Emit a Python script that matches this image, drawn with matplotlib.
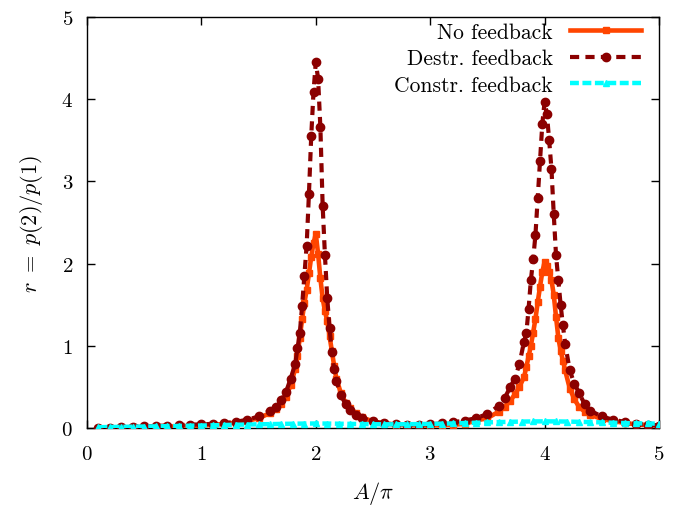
import matplotlib
matplotlib.use("Agg")
import matplotlib.pyplot as plt

plt.rcParams['font.family'] = 'serif'
plt.rcParams['font.serif'] = ['cmr10']
plt.rcParams['mathtext.fontset'] = 'cm'
plt.rcParams['axes.formatter.use_mathtext'] = True

# x values (A/pi) for the no-feedback and destructive-feedback series
x_main = [0.1, 0.2, 0.3, 0.4, 0.5, 0.6, 0.7, 0.8, 0.9, 1.0, 1.1, 1.2, 1.3, 1.4, 1.5, 1.6,
          1.65, 1.7, 1.74, 1.78,
          1.82, 1.84, 1.86, 1.88, 1.90, 1.92, 1.94, 1.96, 1.98, 2.0, 2.02, 2.04, 2.06, 2.08,
          2.10, 2.12, 2.14, 2.16, 2.18,
          2.22, 2.26, 2.3, 2.35, 2.4,
          2.5, 2.6, 2.7, 2.8, 2.9, 3.0, 3.1, 3.2, 3.3, 3.4, 3.5, 3.6,
          3.65, 3.7, 3.74, 3.78,
          3.82, 3.84, 3.86, 3.88, 3.90, 3.92, 3.94, 3.96, 3.98, 4.0, 4.02, 4.04, 4.06, 4.08,
          4.10, 4.12, 4.14, 4.16, 4.18,
          4.22, 4.26, 4.3, 4.35, 4.4,
          4.5, 4.6, 4.7, 4.8, 4.9, 5.0]

no_feedback = [0.0, 0.005, 0.008, 0.01, 0.012, 0.015, 0.018, 0.02, 0.025, 0.03, 0.04, 0.05, 0.065, 0.085, 0.12, 0.18,
               0.23, 0.29, 0.38, 0.52,
               0.72, 0.88, 1.10, 1.32, 1.52, 1.68, 1.88, 2.08, 2.25, 2.36, 2.12, 1.82, 1.58, 1.42,
               1.30, 1.12, 0.94, 0.76, 0.60,
               0.42, 0.31, 0.24, 0.18, 0.13,
               0.08, 0.055, 0.04, 0.035, 0.03, 0.03, 0.035, 0.04, 0.05, 0.09, 0.12, 0.20,
               0.26, 0.33, 0.41, 0.50,
               0.62, 0.74, 0.87, 1.00, 1.16, 1.33, 1.53, 1.72, 1.90, 2.02, 1.97, 1.90, 1.80, 1.62,
               1.35, 1.10, 0.94, 0.82, 0.70,
               0.48, 0.35, 0.26, 0.20, 0.16,
               0.11, 0.085, 0.06, 0.045, 0.035, 0.03]

destr_feedback = [0.0, 0.005, 0.01, 0.015, 0.02, 0.025, 0.03, 0.035, 0.04, 0.045, 0.05, 0.06, 0.075, 0.10, 0.14, 0.21,
                  0.26, 0.34, 0.44, 0.60,
                  0.78, 0.97, 1.15, 1.48, 1.85, 2.22, 2.85, 3.55, 4.09, 4.45, 4.25, 3.66, 2.70, 2.10,
                  1.58, 1.22, 0.93, 0.72, 0.57,
                  0.40, 0.29, 0.22, 0.16, 0.12,
                  0.08, 0.055, 0.045, 0.04, 0.04, 0.045, 0.055, 0.07, 0.09, 0.12, 0.17, 0.27,
                  0.36, 0.50, 0.60, 0.78,
                  1.05, 1.15, 1.45, 1.80, 2.05, 2.35, 2.80, 3.25, 3.70, 3.97, 3.82, 3.50, 3.15, 2.60,
                  2.10, 1.80, 1.50, 1.25, 1.02,
                  0.70, 0.54, 0.43, 0.29, 0.21,
                  0.14, 0.10, 0.075, 0.05, 0.04, 0.03]

# constructive feedback series
x_constr = [0.1, 0.2, 0.3, 0.4, 0.5, 0.6, 0.7, 0.8, 0.9, 1.0,
            1.1, 1.2, 1.3, 1.4, 1.5, 1.6, 1.7, 1.8, 1.9, 2.0,
            2.1, 2.2, 2.3, 2.4, 2.5, 2.6, 2.7, 2.8, 2.9, 3.0,
            3.1, 3.2, 3.3, 3.4, 3.5, 3.6, 3.7, 3.8, 3.9, 4.0,
            4.1, 4.2, 4.3, 4.4, 4.5, 4.6, 4.7, 4.8, 4.9, 5.0]
constr_feedback = [0.01, 0.012, 0.014, 0.016, 0.018, 0.02, 0.022, 0.025, 0.028, 0.03,
                   0.033, 0.036, 0.04, 0.042, 0.045, 0.047, 0.05, 0.052, 0.054, 0.055,
                   0.054, 0.052, 0.05, 0.048, 0.046, 0.045, 0.045, 0.046, 0.048, 0.05,
                   0.053, 0.056, 0.06, 0.064, 0.068, 0.072, 0.075, 0.078, 0.08, 0.081,
                   0.08, 0.078, 0.075, 0.072, 0.068, 0.064, 0.06, 0.057, 0.055, 0.053]

labels = ["No feedback", "Destr. feedback", "Constr. feedback"]
xticks = [0, 1, 2, 3, 4, 5]
yticks = [0, 1, 2, 3, 4, 5]

fig = plt.figure(figsize=(6.76, 5.06), dpi=100)
ax = fig.add_axes([87/676, 77/506, 572/676, 411/506])

ax.plot(x_main, no_feedback, color='#ff4500', lw=3.3, marker='s', ms=3.8,
        label=labels[0], zorder=3)
ax.plot(x_main, destr_feedback, color='#8b0000', lw=3.0, dashes=(2.2, 1.5), marker='o', ms=6,
        label=labels[1], zorder=4)
ax.plot(x_constr, constr_feedback, color='#00ffff', lw=3.2, dashes=(2.0, 0.8), marker='^', ms=4,
        label=labels[2], zorder=5)

ax.set_xlim(0, 5)
ax.set_ylim(0, 5)
ax.set_xticks(xticks)
ax.set_yticks(yticks)
ax.tick_params(direction='in', length=6, width=1, top=True, right=True, labelsize=15)
ax.tick_params(axis='x', pad=12)
ax.tick_params(axis='y', pad=10)
for s in ax.spines.values():
    s.set_linewidth(1.0)
ax.set_xlabel(r'$A/\pi$', fontsize=16, labelpad=12)
ax.set_ylabel(r'$r\ =\ p(2)/p(1)$', fontsize=16, labelpad=12)

leg = ax.legend(loc='upper right', bbox_to_anchor=(0.984, 1.0085), frameon=False,
                markerfirst=False, numpoints=1,
                fontsize=15.5, handlelength=3.3, labelspacing=0.33, borderaxespad=0.0,
                handletextpad=0.8)

fig.savefig('out.png', dpi=100)
